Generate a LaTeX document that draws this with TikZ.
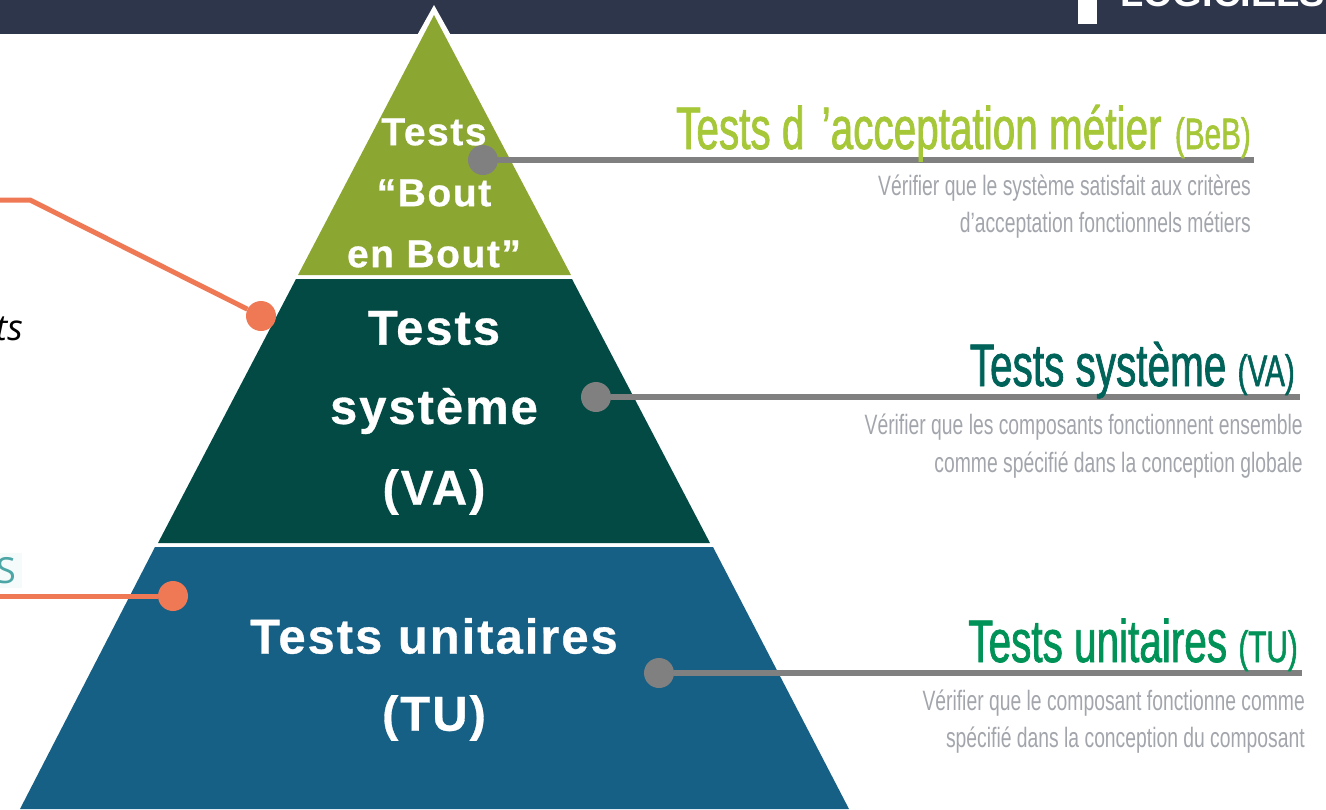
\documentclass[tikz,border=0pt]{standalone}
\usepackage{fontspec}
\setmainfont{Liberation Sans}
\newfontfamily\tierfont[LetterSpace=4,FakeBold=0.6]{Liberation Sans}
\newfontfamily\headfont[FakeStretch=0.675,FakeBold=1.2]{Liberation Sans}
\newfontfamily\descfont[FakeStretch=0.69]{Liberation Sans}
\newfontfamily\sidefont{Open Sans}
\definecolor{bandcol}{HTML}{2E364C}
\definecolor{topcol}{HTML}{8CA632}
\definecolor{midcol}{HTML}{034A44}
\definecolor{lowcol}{HTML}{166085}
\definecolor{dotcol}{HTML}{808080}
\definecolor{linkcol}{HTML}{EF7855}
\definecolor{desccol}{HTML}{A2A5AB}
\definecolor{headone}{HTML}{A5C738}
\definecolor{headtwo}{HTML}{00635A}
\definecolor{headthree}{HTML}{009256}
\tikzset{
tier/.style={fill=#1,draw=none}, % One band of the pyramid
tiertext/.style={text=white,align=center,font=\tierfont\bfseries\fontsize{#1}{#1}\selectfont},
greydot/.style={circle,fill=dotcol,minimum size=30pt,inner sep=0pt},
linkdot/.style={circle,fill=linkcol,minimum size=30pt,inner sep=0pt},
greyline/.style={draw=dotcol,line width=6pt},
linkline/.style={draw=linkcol,line width=5pt},
headtext/.style={anchor=base east,inner sep=0pt,text=#1,font=\headfont\fontsize{60}{60}\selectfont},
desctext/.style={anchor=base east,inner sep=0pt,text=desccol,align=right,font=\descfont\fontsize{28}{28}\selectfont}}
\newcommand{\smallpart}[1]{{\fontsize{44}{44}\selectfont #1}}

\begin{document}
\begin{tikzpicture}[x=1pt,y=-1pt]

    \useasboundingbox (0,0) rectangle (1326,809);
    \clip (0,0) rectangle (1326,809);

    % header band
    \fill[bandcol] (0,0) rectangle (1326,34);
    \fill[white] (1078,0) rectangle (1097,24);
    \node[anchor=base west, inner sep=0pt, text=white, font=\bfseries\fontsize{38}{38}\selectfont] (logo) at (1120,6) {LOGICIELS};

    % pyramid
    \fill[white] (434,5) -- (458,48) -- (410,48) -- cycle;
    \fill[tier=topcol] (434,15) -- (571,275) -- (298,275) -- cycle;
    \fill[tier=midcol] (296,279) -- (572,279) -- (710,543) -- (158,543) -- cycle;
    \fill[tier=lowcol] (155,547) -- (713,547) -- (849,809) -- (20,809) -- cycle;

    \node[tiertext=39] (toptext1) at (434,132) {Tests};
    \node[tiertext=39] (toptext2) at (434,193) {“Bout};
    \node[tiertext=39] (toptext3) at (434,254) {en Bout”};
    \node[tiertext=49] (midtext1) at (434,328) {Tests};
    \node[tiertext=49] (midtext2) at (434,411) {système};
    \node[tiertext=49] (midtext3) at (434,492) {(VA)};
    \node[tiertext=49] (lowtext1) at (434,636) {Tests unitaires};
    \node[tiertext=49] (lowtext2) at (434,718) {(TU)};

    % left over text and links
    \node[anchor=base east, inner sep=0pt, font=\sidefont\itshape\fontsize{36}{36}\selectfont] (sideA) at (23,340) {ts};
    \fill[teal!4] (0,553) rectangle (22,588);
    \node[anchor=base east, inner sep=0pt, text=teal!70, font=\sidefont\fontsize{36}{36}\selectfont] (sideB) at (16,583) {S};

    \node[linkdot] (linkA) at (261,316) {};
    \node[linkdot] (linkB) at (173,596) {};
    \coordinate (startA) at (0,200);
    \coordinate (bendA) at (30,200);
    \coordinate (startB) at (0,596);
    \draw[linkline] (startA) -- (bendA) -- (linkA);
    \draw[linkline] (startB) -- (linkB);

    % right hand callouts
    \node[greydot] (dotBeB) at (483,160) {};
    \node[greydot] (dotVA) at (596,397) {};
    \node[greydot] (dotTU) at (659,673) {};
    \coordinate (endBeB) at (1254,160);
    \coordinate (endVA) at (1300,397);
    \coordinate (endTU) at (1302,673);
    \draw[greyline] (dotBeB) -- (endBeB);
    \draw[greyline] (dotVA) -- (endVA);
    \draw[greyline] (dotTU) -- (endTU);

    \node[headtext=headone] (headBeB) at (1251,149) {Tests d\hspace{6pt} ’acceptation métier\hspace{2pt} \smallpart{(BeB)}};
    \node[headtext=headtwo] (headVA) at (1295,386) {Tests système \smallpart{(VA)}};
    \node[headtext=headthree] (headTU) at (1298,662) {Tests unitaires \smallpart{(TU)}};

    \node[desctext] (descBeB1) at (1251,195) {Vérifier que le système satisfait aux critères};
    \node[desctext] (descBeB2) at (1251,232) {d’acceptation fonctionnels métiers};
    \node[desctext] (descVA1) at (1303,434) {Vérifier que les composants fonctionnent ensemble};
    \node[desctext] (descVA2) at (1303,472) {comme spécifié dans la conception globale};
    \node[desctext] (descTU1) at (1305,710) {Vérifier que le composant fonctionne comme};
    \node[desctext] (descTU2) at (1305,747) {spécifié dans la conception du composant};

\end{tikzpicture}
\end{document}
